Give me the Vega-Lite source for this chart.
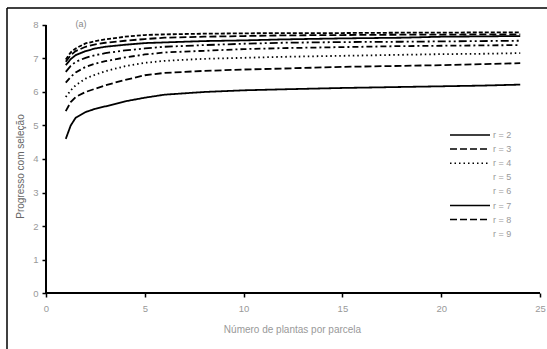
{
  "$schema": "https://vega.github.io/schema/vega-lite/v6.json",
  "width": 541,
  "height": 342,
  "padding": {"left": 6, "top": 7, "right": 0, "bottom": 0},
  "autosize": {"type": "pad"},
  "background": "white",
  "config": {
    "view": {"stroke": null},
    "font": "Liberation Sans"
  },
  "layer": [
    {
      "data": {
        "values": [
          {"n": 1, "g": 4.6, "r": "r = 2"}, {"n": 1.25, "g": 5.0, "r": "r = 2"}, {"n": 1.5, "g": 5.23, "r": "r = 2"}, {"n": 2, "g": 5.4, "r": "r = 2"}, {"n": 2.5, "g": 5.5, "r": "r = 2"}, {"n": 3, "g": 5.57, "r": "r = 2"}, {"n": 4, "g": 5.72, "r": "r = 2"}, {"n": 5, "g": 5.83, "r": "r = 2"}, {"n": 6, "g": 5.92, "r": "r = 2"}, {"n": 8, "g": 6.0, "r": "r = 2"}, {"n": 10, "g": 6.05, "r": "r = 2"}, {"n": 12, "g": 6.08, "r": "r = 2"}, {"n": 15, "g": 6.12, "r": "r = 2"}, {"n": 18, "g": 6.15, "r": "r = 2"}, {"n": 20, "g": 6.17, "r": "r = 2"}, {"n": 22, "g": 6.19, "r": "r = 2"}, {"n": 24, "g": 6.22, "r": "r = 2"},
          {"n": 1, "g": 5.43, "r": "r = 3"}, {"n": 1.25, "g": 5.7, "r": "r = 3"}, {"n": 1.5, "g": 5.85, "r": "r = 3"}, {"n": 2, "g": 6.0, "r": "r = 3"}, {"n": 2.5, "g": 6.1, "r": "r = 3"}, {"n": 3, "g": 6.2, "r": "r = 3"}, {"n": 4, "g": 6.36, "r": "r = 3"}, {"n": 5, "g": 6.5, "r": "r = 3"}, {"n": 6, "g": 6.57, "r": "r = 3"}, {"n": 8, "g": 6.63, "r": "r = 3"}, {"n": 10, "g": 6.67, "r": "r = 3"}, {"n": 12, "g": 6.7, "r": "r = 3"}, {"n": 15, "g": 6.75, "r": "r = 3"}, {"n": 18, "g": 6.78, "r": "r = 3"}, {"n": 20, "g": 6.8, "r": "r = 3"}, {"n": 22, "g": 6.83, "r": "r = 3"}, {"n": 24, "g": 6.86, "r": "r = 3"},
          {"n": 1, "g": 5.85, "r": "r = 4"}, {"n": 1.25, "g": 6.05, "r": "r = 4"}, {"n": 1.5, "g": 6.2, "r": "r = 4"}, {"n": 2, "g": 6.4, "r": "r = 4"}, {"n": 2.5, "g": 6.52, "r": "r = 4"}, {"n": 3, "g": 6.62, "r": "r = 4"}, {"n": 4, "g": 6.77, "r": "r = 4"}, {"n": 5, "g": 6.87, "r": "r = 4"}, {"n": 6, "g": 6.93, "r": "r = 4"}, {"n": 8, "g": 6.99, "r": "r = 4"}, {"n": 10, "g": 7.02, "r": "r = 4"}, {"n": 12, "g": 7.05, "r": "r = 4"}, {"n": 15, "g": 7.08, "r": "r = 4"}, {"n": 18, "g": 7.11, "r": "r = 4"}, {"n": 20, "g": 7.13, "r": "r = 4"}, {"n": 22, "g": 7.14, "r": "r = 4"}, {"n": 24, "g": 7.16, "r": "r = 4"},
          {"n": 1, "g": 6.28, "r": "r = 5"}, {"n": 1.25, "g": 6.45, "r": "r = 5"}, {"n": 1.5, "g": 6.58, "r": "r = 5"}, {"n": 2, "g": 6.75, "r": "r = 5"}, {"n": 2.5, "g": 6.85, "r": "r = 5"}, {"n": 3, "g": 6.92, "r": "r = 5"}, {"n": 4, "g": 7.03, "r": "r = 5"}, {"n": 5, "g": 7.12, "r": "r = 5"}, {"n": 6, "g": 7.18, "r": "r = 5"}, {"n": 8, "g": 7.23, "r": "r = 5"}, {"n": 10, "g": 7.28, "r": "r = 5"}, {"n": 12, "g": 7.31, "r": "r = 5"}, {"n": 15, "g": 7.34, "r": "r = 5"}, {"n": 18, "g": 7.37, "r": "r = 5"}, {"n": 20, "g": 7.38, "r": "r = 5"}, {"n": 22, "g": 7.39, "r": "r = 5"}, {"n": 24, "g": 7.4, "r": "r = 5"},
          {"n": 1, "g": 6.6, "r": "r = 6"}, {"n": 1.25, "g": 6.78, "r": "r = 6"}, {"n": 1.5, "g": 6.9, "r": "r = 6"}, {"n": 2, "g": 7.02, "r": "r = 6"}, {"n": 2.5, "g": 7.1, "r": "r = 6"}, {"n": 3, "g": 7.16, "r": "r = 6"}, {"n": 4, "g": 7.24, "r": "r = 6"}, {"n": 5, "g": 7.3, "r": "r = 6"}, {"n": 6, "g": 7.35, "r": "r = 6"}, {"n": 8, "g": 7.4, "r": "r = 6"}, {"n": 10, "g": 7.44, "r": "r = 6"}, {"n": 12, "g": 7.47, "r": "r = 6"}, {"n": 15, "g": 7.49, "r": "r = 6"}, {"n": 18, "g": 7.5, "r": "r = 6"}, {"n": 20, "g": 7.51, "r": "r = 6"}, {"n": 22, "g": 7.52, "r": "r = 6"}, {"n": 24, "g": 7.53, "r": "r = 6"},
          {"n": 1, "g": 6.8, "r": "r = 7"}, {"n": 1.25, "g": 6.98, "r": "r = 7"}, {"n": 1.5, "g": 7.1, "r": "r = 7"}, {"n": 2, "g": 7.22, "r": "r = 7"}, {"n": 2.5, "g": 7.3, "r": "r = 7"}, {"n": 3, "g": 7.35, "r": "r = 7"}, {"n": 4, "g": 7.41, "r": "r = 7"}, {"n": 5, "g": 7.46, "r": "r = 7"}, {"n": 6, "g": 7.48, "r": "r = 7"}, {"n": 8, "g": 7.52, "r": "r = 7"}, {"n": 10, "g": 7.54, "r": "r = 7"}, {"n": 12, "g": 7.57, "r": "r = 7"}, {"n": 15, "g": 7.6, "r": "r = 7"}, {"n": 18, "g": 7.62, "r": "r = 7"}, {"n": 20, "g": 7.65, "r": "r = 7"}, {"n": 22, "g": 7.66, "r": "r = 7"}, {"n": 24, "g": 7.67, "r": "r = 7"},
          {"n": 1, "g": 6.9, "r": "r = 8"}, {"n": 1.25, "g": 7.1, "r": "r = 8"}, {"n": 1.5, "g": 7.22, "r": "r = 8"}, {"n": 2, "g": 7.35, "r": "r = 8"}, {"n": 2.5, "g": 7.42, "r": "r = 8"}, {"n": 3, "g": 7.47, "r": "r = 8"}, {"n": 4, "g": 7.53, "r": "r = 8"}, {"n": 5, "g": 7.58, "r": "r = 8"}, {"n": 6, "g": 7.62, "r": "r = 8"}, {"n": 8, "g": 7.65, "r": "r = 8"}, {"n": 10, "g": 7.67, "r": "r = 8"}, {"n": 12, "g": 7.69, "r": "r = 8"}, {"n": 15, "g": 7.7, "r": "r = 8"}, {"n": 18, "g": 7.71, "r": "r = 8"}, {"n": 20, "g": 7.71, "r": "r = 8"}, {"n": 22, "g": 7.72, "r": "r = 8"}, {"n": 24, "g": 7.72, "r": "r = 8"},
          {"n": 1, "g": 6.97, "r": "r = 9"}, {"n": 1.25, "g": 7.18, "r": "r = 9"}, {"n": 1.5, "g": 7.3, "r": "r = 9"}, {"n": 2, "g": 7.45, "r": "r = 9"}, {"n": 2.5, "g": 7.52, "r": "r = 9"}, {"n": 3, "g": 7.57, "r": "r = 9"}, {"n": 4, "g": 7.65, "r": "r = 9"}, {"n": 5, "g": 7.7, "r": "r = 9"}, {"n": 6, "g": 7.72, "r": "r = 9"}, {"n": 8, "g": 7.74, "r": "r = 9"}, {"n": 10, "g": 7.75, "r": "r = 9"}, {"n": 12, "g": 7.76, "r": "r = 9"}, {"n": 15, "g": 7.76, "r": "r = 9"}, {"n": 18, "g": 7.77, "r": "r = 9"}, {"n": 20, "g": 7.77, "r": "r = 9"}, {"n": 22, "g": 7.78, "r": "r = 9"}, {"n": 24, "g": 7.78, "r": "r = 9"}
        ]
      },
      "mark": {"type": "line", "color": "black", "strokeWidth": 1.8},
      "encoding": {
        "x": {
          "field": "n", "type": "quantitative",
          "scale": {"domain": [-1.974, 25.405], "nice": false, "zero": false},
          "axis": {
            "offset": -57, "values": [0, 5, 10, 15, 20, 25], "domain": false, "grid": false,
            "tickColor": "black", "tickWidth": 1.5, "tickSize": 4,
            "labelColor": "#999999", "labelFontSize": 9.5, "labelPadding": 6, "labelFlush": false,
            "title": "Número de plantas por parcela", "titleColor": "#999999", "titleFontSize": 10,
            "titleFontWeight": "normal", "titlePadding": 12, "titleX": 285
          }
        },
        "y": {
          "field": "g", "type": "quantitative",
          "scale": {"domain": [-1.701, 8.507], "nice": false, "zero": false},
          "axis": {
            "offset": -39, "values": [0, 1, 2, 3, 4, 5, 6, 7, 8], "domain": false, "grid": false,
            "tickColor": "black", "tickWidth": 1.5, "tickSize": 4,
            "labelColor": "#999999", "labelFontSize": 9.5, "labelPadding": 4, "labelFlush": false,
            "title": "Progresso com seleção", "titleColor": "#666666", "titleFontSize": 10,
            "titleFontWeight": "normal", "titlePadding": 7, "titleY": 158
          }
        },
        "strokeDash": {
          "field": "r", "type": "nominal",
          "scale": {
            "domain": ["r = 2", "r = 3", "r = 4", "r = 5", "r = 6", "r = 7", "r = 8", "r = 9"],
            "range": [[1, 0], [7, 3], [1.5, 3], [6, 3, 2, 3], [8, 3, 2, 3, 2, 3], [1, 0], [7, 3], [4, 2]]
          },
          "legend": {
            "orient": "none", "legendX": 472, "legendY": 121, "title": null, "padding": 0,
            "symbolType": "M-7,0H1", "symbolSize": 100, "symbolStrokeColor": "black",
            "symbolStrokeWidth": 1.5, "symbolFillColor": "transparent",
            "labelFontSize": 9, "labelColor": "#999999", "labelOffset": 2, "rowPadding": 3.1,
            "encode": {
              "symbols": {
                "update": {
                  "opacity": {"signal": "indexof(['r = 5', 'r = 6', 'r = 9'], datum.label) >= 0 ? 0 : 1"}
                }
              }
            }
          }
        }
      }
    },
    {
      "data": {"values": [{}]},
      "mark": {"type": "rule", "color": "black", "strokeWidth": 2},
      "encoding": {
        "x": {"datum": 0, "type": "quantitative"},
        "x2": {"datum": 25},
        "y": {"datum": 0, "type": "quantitative"}
      }
    },
    {
      "data": {"values": [{}]},
      "mark": {"type": "rule", "color": "black", "strokeWidth": 2},
      "encoding": {
        "x": {"datum": 0, "type": "quantitative"},
        "y": {"datum": 0, "type": "quantitative"},
        "y2": {"datum": 8}
      }
    },
    {
      "data": {"values": [{}]},
      "mark": {"type": "rule", "color": "black", "strokeWidth": 1.5},
      "encoding": {
        "x": {"datum": -1.974, "type": "quantitative"},
        "x2": {"datum": 25.405},
        "y": {"datum": 8.507, "type": "quantitative"}
      }
    },
    {
      "data": {"values": [{}]},
      "mark": {"type": "rule", "color": "black", "strokeWidth": 1.5},
      "encoding": {
        "x": {"datum": -1.974, "type": "quantitative"},
        "y": {"datum": -1.701, "type": "quantitative"},
        "y2": {"datum": 8.507}
      }
    },
    {
      "data": {"values": [{}]},
      "mark": {"type": "text", "text": "(a)", "color": "#888888", "fontSize": 9},
      "encoding": {
        "x": {"datum": 1.77, "type": "quantitative"},
        "y": {"datum": 8.03, "type": "quantitative"}
      }
    }
  ]
}
